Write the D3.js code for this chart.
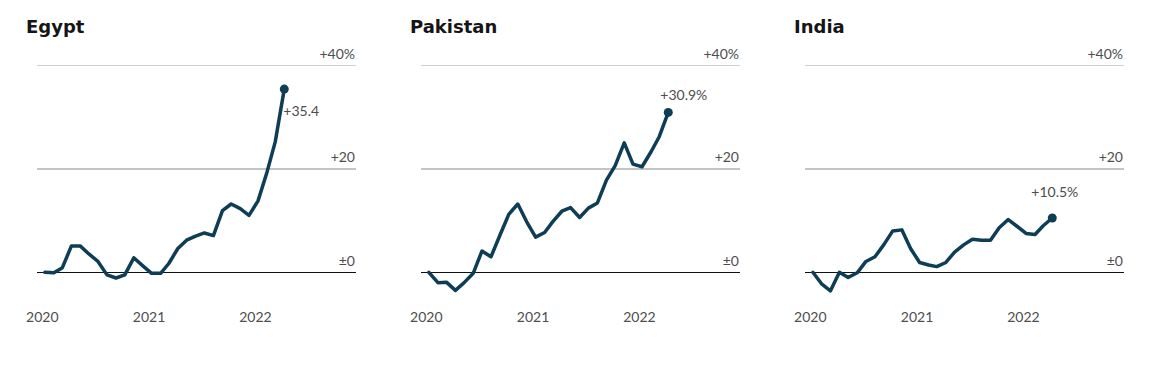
<!DOCTYPE html>
<html>
<head>
<meta charset="utf-8">
<script src="https://cdn.jsdelivr.net/npm/d3@7"></script>
<style>
  html, body { margin: 0; padding: 0; background: #fff; }
  svg { display: block; }
</style>
</head>
<body>
<svg id="chart" width="1160" height="366"></svg>
<script>
// ---- Data ----
const countries = ["Egypt", "Pakistan", "India"];
const months = [
  "2020-01","2020-02","2020-03","2020-04","2020-05","2020-06","2020-07","2020-08","2020-09","2020-10","2020-11","2020-12",
  "2021-01","2021-02","2021-03","2021-04","2021-05","2021-06","2021-07","2021-08","2021-09","2021-10","2021-11","2021-12",
  "2022-01","2022-02","2022-03","2022-04"
];
const egypt = [0, -0.1, 0.9, 5.1, 5.1, 3.5, 2.1, -0.5, -1.1, -0.5, 2.8, 1.3,
  -0.2, -0.2, 1.7, 4.6, 6.2, 7.0, 7.6, 7.1, 11.9, 13.2, 12.3, 11.0,
  13.8, 19.4, 25.2, 35.4];
const pakistan = [0, -2.0, -1.9, -3.5, -2.0, -0.2, 4.1, 3.0, 7.2, 11.2, 13.2, 9.8,
  6.8, 7.7, 9.8, 11.8, 12.5, 10.6, 12.4, 13.4, 17.8, 20.6, 25.0, 20.9,
  20.4, 23.3, 26.2, 30.9];
const india = [0, -2.3, -3.6, 0, -1.0, -0.1, 2.1, 3.0, 5.4, 8.0, 8.2, 4.6,
  1.9, 1.4, 1.1, 1.9, 3.9, 5.3, 6.4, 6.2, 6.2, 8.6, 10.2, 8.9,
  7.5, 7.3, 9.0, 10.5];
const endLabels = ["+35.4", "+30.9%", "+10.5%"];
const yTicks = [0, 20, 40];
const yTickLabels = ["±0", "+20", "+40%"];
const xTicks = ["2020-01-01", "2021-01-01", "2022-01-01"];
const xTickLabels = ["2020", "2021", "2022"];

// ---- Layout (kept separate from data) ----
const series = [egypt, pakistan, india];
const panelStep = 384;
const plotLeft = 37, plotRight = 356;
const labelOffsets = [[-1, 27, "start"], [-8, -12, "start"], [-21, -21, "start"]];
const lineColor = "#0e3d55";
const textColor = "#4d4d4d";

const parseMonth = d3.timeParse("%Y-%m");
const parseDay = d3.timeParse("%Y-%m-%d");
const dates = months.map(m => d3.timeDay.offset(parseMonth(m), 14));

const x = d3.scaleTime()
  .domain([parseDay("2019-12-19"), parseDay("2022-12-17")])
  .range([plotLeft, plotRight]);
const y = d3.scaleLinear().domain([0, 40]).range([272.3, 65.3]);

const svg = d3.select("#chart");

countries.forEach((name, i) => {
  const g = svg.append("g").attr("transform", `translate(${i * panelStep},0)`);

  // title
  g.append("text")
    .attr("x", 26).attr("y", 33)
    .attr("font-family", "'DejaVu Sans', sans-serif")
    .attr("font-weight", 700)
    .attr("font-size", 18)
    .attr("fill", "#151515")
    .text(name);

  // grid lines
  yTicks.forEach((t, k) => {
    g.append("line")
      .attr("x1", plotLeft).attr("x2", plotRight)
      .attr("y1", Math.round(y(t)) + (t === 20 ? 0 : 0.5))
      .attr("y2", Math.round(y(t)) + (t === 20 ? 0 : 0.5))
      .attr("stroke", t === 0 ? "#111" : (t === 20 ? "#c4c4c4" : "#cfcfcf"))
      .attr("stroke-width", t === 20 ? 2 : 1);
    g.append("text")
      .attr("x", plotRight - 1)
      .attr("y", y(t) - 6.5)
      .attr("text-anchor", "end")
      .attr("font-family", "Lato, sans-serif")
      .attr("font-weight", 400)
      .attr("font-size", 14)
      .attr("fill", textColor)
      .text(yTickLabels[k]);
  });

  // x tick labels
  xTicks.forEach((t, k) => {
    g.append("text")
      .attr("x", x(parseDay(t)) + 1.5)
      .attr("y", 322)
      .attr("text-anchor", "middle")
      .attr("font-family", "Lato, sans-serif")
      .attr("font-weight", 400)
      .attr("font-size", 14)
      .attr("fill", textColor)
      .text(xTickLabels[k]);
  });

  const vals = series[i];
  const line = d3.line()
    .x((d, j) => x(dates[j]))
    .y(d => y(d));

  g.append("path")
    .datum(vals)
    .attr("d", line)
    .attr("fill", "none")
    .attr("stroke", lineColor)
    .attr("stroke-width", 3.5)
    .attr("stroke-linejoin", "round")
    .attr("stroke-linecap", "round");

  const last = vals.length - 1;
  const lx = x(dates[last]), ly = y(vals[last]);
  g.append("circle")
    .attr("cx", lx).attr("cy", ly).attr("r", 4.5)
    .attr("fill", lineColor);

  const off = labelOffsets[i];
  g.append("text")
    .attr("x", lx + off[0])
    .attr("y", ly + off[1])
    .attr("text-anchor", off[2])
    .attr("font-family", "Lato, sans-serif")
    .attr("font-weight", 400)
    .attr("font-size", 14)
    .attr("fill", textColor)
    .text(endLabels[i]);
});
</script>
</body>
</html>
